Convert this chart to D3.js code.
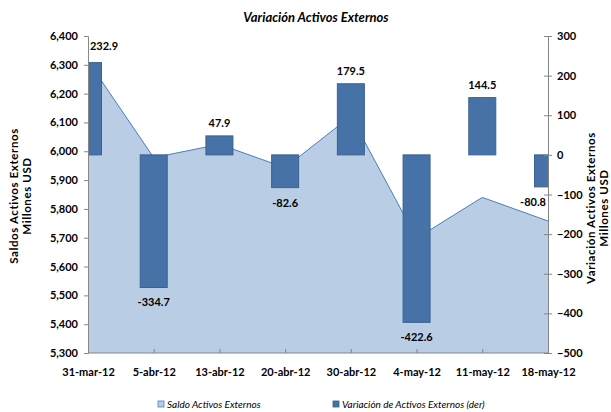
<!DOCTYPE html>
<html>
<head>
<meta charset="utf-8">
<script src="https://cdn.jsdelivr.net/npm/d3@7"></script>
<style>
  body { margin: 0; background: #fff; }
  svg { font-family: Lato, "Open Sans", sans-serif; }
</style>
</head>
<body>
<script>
const fechas = ['31-mar-12', '5-abr-12', '13-abr-12', '20-abr-12', '30-abr-12', '4-may-12', '11-may-12', '18-may-12'];
const saldo = [6313, 5978, 6024, 5943, 6122, 5698, 5840, 5758];
const variacion = [232.9, -334.7, 47.9, -82.6, 179.5, -422.6, 144.5, -80.8];
const ticksIzq = [5300, 5400, 5500, 5600, 5700, 5800, 5900, 6000, 6100, 6200, 6300, 6400];
const ticksDer = [-500, -400, -300, -200, -100, 0, 100, 200, 300];

const width = 611, height = 412;
const plotLeft = 88, plotRight = 548, plotTop = 36, plotBottom = 353;

const svg = d3.select('body').append('svg')
  .attr('width', width)
  .attr('height', height);

const x = d3.scalePoint().domain(fechas).range([plotLeft, plotRight]);
const yIzq = d3.scaleLinear().domain([5300, 6400]).range([plotBottom, plotTop]);
const yDer = d3.scaleLinear().domain([-500, 300]).range([plotBottom, plotTop]);

svg.append('clipPath').attr('id', 'plot')
  .append('rect')
  .attr('x', plotLeft).attr('y', plotTop)
  .attr('width', plotRight - plotLeft).attr('height', plotBottom - plotTop);

// area of saldo
const area = d3.area()
  .x((d, i) => x(fechas[i]))
  .y0(plotBottom)
  .y1(d => yIzq(d));
const line = d3.line()
  .x((d, i) => x(fechas[i]))
  .y(d => yIzq(d));

svg.append('path')
  .datum(saldo)
  .attr('d', area)
  .attr('fill', '#b9cde5');
svg.append('path')
  .datum(saldo)
  .attr('d', line)
  .attr('fill', 'none')
  .attr('stroke', '#4a7ebb')
  .attr('stroke-width', 1);

// bars of variacion
const barW = 27;
svg.append('g')
  .attr('clip-path', 'url(#plot)')
  .selectAll('rect')
  .data(variacion)
  .enter()
  .append('rect')
  .attr('x', (d, i) => x(fechas[i]) - barW / 2)
  .attr('y', d => Math.min(yDer(d), yDer(0)))
  .attr('width', barW)
  .attr('height', d => Math.abs(yDer(d) - yDer(0)))
  .attr('fill', '#4672a8')
  .attr('stroke', '#3a6190')
  .attr('stroke-width', 1);

// data labels
svg.append('g')
  .selectAll('text')
  .data(variacion)
  .enter()
  .append('text')
  .attr('x', (d, i) => {
    let cx = x(fechas[i]);
    if (i === 0) cx += 16;
    if (i === fechas.length - 1) cx -= 15;
    return cx;
  })
  .attr('y', (d, i) => {
    if (i === 0) return yDer(d) - 13;
    return d >= 0 ? yDer(d) - 9 : yDer(d) + 19;
  })
  .attr('text-anchor', 'middle')
  .attr('font-size', 11)
  .attr('font-weight', 'bold')
  .attr('fill', '#000')
  .text(d => d.toFixed(1));

// axes
const axisColor = '#868686';
const gIzq = svg.append('g')
  .attr('transform', `translate(${plotLeft},0)`)
  .call(d3.axisLeft(yIzq).tickValues(ticksIzq).tickSize(4).tickPadding(6).tickFormat(d3.format(',')));
const gDer = svg.append('g')
  .attr('transform', `translate(${plotRight},0)`)
  .call(d3.axisRight(yDer).tickValues(ticksDer).tickSize(4).tickPadding(5).tickFormat(d3.format('d')));
gDer.selectAll('.tick line').attr('x1', -4);
const gX = svg.append('g')
  .attr('transform', `translate(0,${plotBottom})`)
  .call(d3.axisBottom(x).tickSize(-4).tickPadding(15));

[gIzq, gDer, gX].forEach(g => {
  g.select('.domain').attr('stroke', axisColor);
  g.selectAll('.tick line').attr('stroke', axisColor);
  g.selectAll('.tick text')
    .attr('fill', '#000')
    .attr('font-size', 11)
    .attr('font-weight', 'bold')
    .attr('font-family', 'Lato, sans-serif');
});
gX.select('.domain').attr('d', `M${plotLeft},0H${plotRight}`);

// title
svg.append('text')
  .attr('x', 316)
  .attr('y', 22)
  .attr('text-anchor', 'middle')
  .attr('font-size', 13)
  .attr('font-weight', 'bold')
  .attr('font-style', 'italic')
  .text('Variación Activos Externos');

// axis titles
const tituloIzq = svg.append('text')
  .attr('transform', 'translate(18,196) rotate(-90)')
  .attr('text-anchor', 'middle')
  .attr('font-size', 11.5)
  .attr('letter-spacing', 0.6)
  .attr('font-weight', 'bold');
tituloIzq.append('tspan').attr('x', 0).attr('dy', 0).text('Saldos Activos Externos');
tituloIzq.append('tspan').attr('x', 0).attr('dy', 13).text('Millones USD');

const tituloDer = svg.append('text')
  .attr('transform', 'translate(595,208) rotate(-90)')
  .attr('text-anchor', 'middle')
  .attr('font-size', 11.5)
  .attr('letter-spacing', 0.6)
  .attr('font-weight', 'bold');
tituloDer.append('tspan').attr('x', 0).attr('dy', 0).text('Variación Activos Externos');
tituloDer.append('tspan').attr('x', 0).attr('dy', 13).text('Millones USD');

// legend
const leyenda = [
  { nombre: 'Saldo Activos Externos', color: '#b9cde5', borde: '#4a7ebb', xPos: 158 },
  { nombre: 'Variación de Activos Externos (der)', color: '#4672a8', borde: '#3a6190', xPos: 333 }
];
const gL = svg.append('g');
leyenda.forEach(l => {
  gL.append('rect')
    .attr('x', l.xPos).attr('y', 401)
    .attr('width', 6).attr('height', 6)
    .attr('fill', l.color)
    .attr('stroke', l.borde)
    .attr('stroke-width', 0.8);
  gL.append('text')
    .attr('x', l.xPos + 9).attr('y', 408)
    .attr('font-size', 10)
    .attr('font-style', 'italic')
    .text(l.nombre);
});
</script>
</body>
</html>
